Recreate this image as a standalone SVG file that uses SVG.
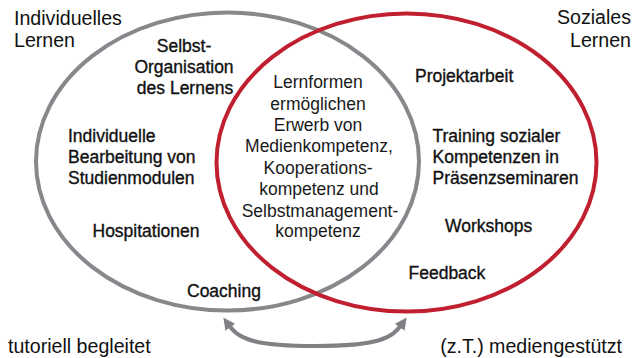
<svg xmlns="http://www.w3.org/2000/svg" width="634" height="358" viewBox="0 0 634 358">
<style>
  text { font-family: "Liberation Sans", Arial, sans-serif; fill: #111; }
  .corner { font-size: 19.6px; }
  .lbl { font-size: 17.5px; stroke: #111; stroke-width: 0.35px; }
  .mid { font-size: 17.5px; text-anchor: middle; fill: #1a1a1a; }
  .ring-grey { fill: none; stroke: #87878c; stroke-width: 4; }
  .ring-red { fill: none; stroke: #c01f2f; stroke-width: 4; }
  .conn { fill: none; stroke: #808085; stroke-width: 4; }
</style>
<defs>
  <marker id="head" viewBox="0 0 12 12" refX="4" refY="6" markerWidth="12" markerHeight="12" markerUnits="userSpaceOnUse" orient="auto-start-reverse">
    <path d="M0,0 L12,6 L0,12 z" fill="#808085"/>
  </marker>
</defs>

<g id="individuelles-lernen">
  <ellipse class="ring-grey" cx="227.5" cy="161.5" rx="191.5" ry="149"/>
  <text class="corner" x="14" y="25">Individuelles</text>
  <text class="corner" x="14" y="47">Lernen</text>
</g>

<g id="soziales-lernen">
  <ellipse class="ring-red" cx="406.5" cy="162.5" rx="190" ry="149"/>
  <text class="corner" x="631" y="24" text-anchor="end">Soziales</text>
  <text class="corner" x="631" y="46.5" text-anchor="end">Lernen</text>
</g>

<g id="selbstorganisation">
  <text class="lbl" text-anchor="middle" x="184" y="52">Selbst-</text>
  <text class="lbl" text-anchor="middle" x="184" y="73">Organisation</text>
  <text class="lbl" text-anchor="middle" x="185" y="94">des Lernens</text>
</g>

<g id="individuelle-bearbeitung">
  <text class="lbl" x="68" y="141.5">Individuelle</text>
  <text class="lbl" x="68" y="163">Bearbeitung von</text>
  <text class="lbl" x="68" y="184">Studienmodulen</text>
</g>

<g id="hospitationen">
  <text class="lbl" x="92.5" y="236.5">Hospitationen</text>
</g>

<g id="coaching">
  <text class="lbl" x="187" y="296.5">Coaching</text>
</g>

<g id="schnittmenge">
  <text class="mid" x="318" y="88">Lernformen</text>
  <text class="mid" x="318" y="109.5">ermöglichen</text>
  <text class="mid" x="318" y="131">Erwerb von</text>
  <text class="mid" x="319" y="152">Medienkompetenz,</text>
  <text class="mid" x="318" y="173.5">Kooperations-</text>
  <text class="mid" x="319" y="195">kompetenz und</text>
  <text class="mid" x="320" y="216.5">Selbstmanagement-</text>
  <text class="mid" x="318" y="237">kompetenz</text>
</g>

<g id="projektarbeit">
  <text class="lbl" x="415" y="81.5">Projektarbeit</text>
</g>

<g id="training">
  <text class="lbl" x="432.5" y="141.5">Training sozialer</text>
  <text class="lbl" x="432.5" y="163">Kompetenzen in</text>
  <text class="lbl" x="432.5" y="184">Präsenzseminaren</text>
</g>

<g id="workshops">
  <text class="lbl" x="445" y="231.5">Workshops</text>
</g>

<g id="feedback">
  <text class="lbl" x="408.5" y="278.5">Feedback</text>
</g>

<g id="tutoriell">
  <text class="corner" x="8" y="352.5">tutoriell begleitet</text>
</g>

<g id="mediengestuetzt">
  <text class="corner" x="622" y="352.5" text-anchor="end">(z.T.) mediengestützt</text>
</g>

<g id="connectors">
  <path class="conn" d="M228,324 C238,338 250,346 315,346 C380,346 392,338 402,324" marker-start="url(#head)" marker-end="url(#head)"/>
</g>
</svg>
